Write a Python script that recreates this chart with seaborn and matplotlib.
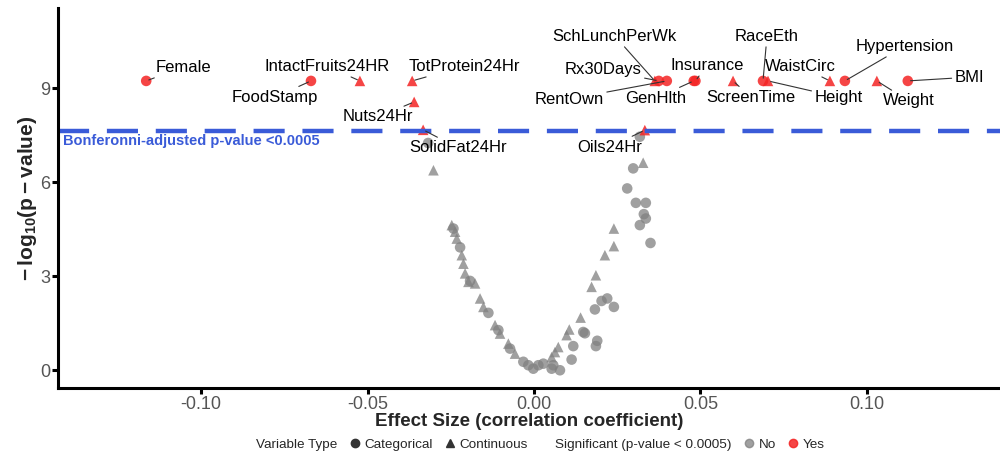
import numpy as np
import pandas as pd
import matplotlib
matplotlib.use("Agg")
import matplotlib.pyplot as plt
from matplotlib.lines import Line2D
import seaborn as sns

# ---------------- data ----------------
sig_names = ["Female", "FoodStamp", "IntactFruits24HR", "TotProtein24Hr", "Nuts24Hr",
             "SolidFat24Hr", "Oils24Hr", "SchLunchPerWk", "Rx30Days", "RentOwn",
             "Insurance", "GenHlth", "ScreenTime", "RaceEth", "Height", "WaistCirc",
             "Hypertension", "Weight", "BMI"]
sig_effect = [-0.1165, -0.067, -0.0523, -0.0366, -0.036, -0.0333, 0.0333, 0.0363, 0.0375,
              0.0399, 0.0485, 0.0480, 0.0598, 0.0688, 0.0703, 0.0889, 0.0934, 0.1030, 0.1123]
sig_logp = [9.23, 9.23, 9.23, 9.23, 8.56, 7.67, 7.66, 9.23, 9.23,
            9.23, 9.23, 9.23, 9.23, 9.23, 9.23, 9.23, 9.23, 9.23, 9.23]
sig_type = ["Categorical", "Categorical", "Continuous", "Continuous", "Continuous",
            "Continuous", "Continuous", "Continuous", "Categorical", "Categorical",
            "Categorical", "Categorical", "Continuous", "Categorical", "Continuous",
            "Continuous", "Categorical", "Continuous", "Categorical"]

ns_effect = [-0.0318, -0.0302, -0.0247, -0.0242, -0.0237, -0.0232, -0.0222, -0.0217, -0.0212,
             -0.0207, -0.0197, -0.0192, -0.0177, -0.0162, -0.0152, -0.0137, -0.0117, -0.0107,
             -0.0102, -0.0077, -0.0072, -0.0057, -0.0032, -0.0017, -0.0002, 0.0013, 0.0028,
             0.0053, 0.0058, 0.0078, 0.0053, 0.0063, 0.0073, 0.0098, 0.0106, 0.0113, 0.0118,
             0.0140, 0.0148, 0.0153, 0.0173, 0.0186, 0.0183, 0.0190, 0.0186, 0.0203, 0.0220,
             0.0240, 0.0213, 0.0240, 0.0240, 0.0280, 0.0298, 0.0328, 0.0306, 0.0336, 0.0330,
             0.0336, 0.0318, 0.0350, 0.0318]
ns_logp = [7.25, 6.38, 4.63, 4.52, 4.42, 4.20, 3.92, 3.67, 3.40,
           3.09, 2.82, 2.85, 2.77, 2.29, 2.02, 1.83, 1.44, 1.28,
           1.17, 0.85, 0.69, 0.53, 0.27, 0.16, 0.05, 0.16, 0.21,
           0.05, 0.16, 0.00, 0.42, 0.58, 0.74, 1.12, 1.30, 0.34, 0.77,
           1.68, 1.22, 1.18, 2.66, 3.03, 1.94, 0.94, 0.77, 2.21, 2.29,
           2.02, 3.67, 3.96, 4.52, 5.80, 6.44, 6.62, 5.34, 5.34, 4.98,
           4.84, 4.63, 4.06, 7.45]
ns_type = ["Categorical", "Continuous", "Continuous", "Categorical", "Continuous", "Continuous",
           "Categorical", "Continuous", "Continuous", "Continuous", "Continuous", "Categorical",
           "Continuous", "Continuous", "Continuous", "Categorical", "Continuous", "Categorical",
           "Continuous", "Continuous", "Categorical", "Continuous", "Categorical", "Categorical",
           "Categorical", "Categorical", "Categorical",
           "Categorical", "Categorical", "Categorical", "Continuous", "Continuous", "Continuous",
           "Continuous", "Continuous", "Categorical", "Categorical", "Continuous", "Categorical",
           "Categorical", "Continuous", "Continuous", "Categorical", "Categorical", "Categorical",
           "Categorical", "Categorical", "Categorical", "Continuous", "Continuous", "Continuous",
           "Categorical", "Categorical", "Continuous", "Categorical", "Categorical", "Categorical",
           "Categorical", "Categorical", "Categorical", "Categorical"]

threshold = 7.63
x_ticks = [-0.10, -0.05, 0.00, 0.05, 0.10]
x_tick_labels = ["-0.10", "-0.05", "0.00", "0.05", "0.10"]
y_ticks = [0, 3, 6, 9]

# label placement (layout, data coords)
label_pos = {
    "Female": (-0.1054, 9.67), "FoodStamp": (-0.0778, 8.71),
    "IntactFruits24HR": (-0.0622, 9.70), "TotProtein24Hr": (-0.0210, 9.70),
    "Nuts24Hr": (-0.0468, 8.08), "SolidFat24Hr": (-0.0228, 7.09),
    "Oils24Hr": (0.0228, 7.12), "SchLunchPerWk": (0.0243, 10.66),
    "Rx30Days": (0.0207, 9.58), "RentOwn": (0.0105, 8.65),
    "Insurance": (0.0520, 9.73), "GenHlth": (0.0366, 8.68),
    "ScreenTime": (0.0652, 8.71), "RaceEth": (0.0700, 10.66),
    "WaistCirc": (0.0799, 9.70), "Height": (0.0916, 8.71),
    "Hypertension": (0.1114, 10.34), "Weight": (0.1126, 8.59),
    "BMI": (0.1309, 9.35),
}

df = pd.concat([
    pd.DataFrame({"effect": ns_effect, "logp": ns_logp, "type": ns_type, "sig": "No"}),
    pd.DataFrame({"effect": sig_effect, "logp": sig_logp, "type": sig_type, "sig": "Yes"}),
], ignore_index=True)

# ---------------- style ----------------
sns.set_style("white")
plt.rcParams["font.family"] = ["Liberation Sans", "DejaVu Sans"]
plt.rcParams["mathtext.fontset"] = "custom"
plt.rcParams["mathtext.rm"] = "Liberation Sans"
plt.rcParams["mathtext.bf"] = "Liberation Sans:bold"

RED = "#F42424"
GREY = "#808080"
BLUE = "#3A5BD8"

fig = plt.figure(figsize=(10, 4.55), dpi=100)
ax = fig.add_axes([0.058, 0.147, 0.942, 0.835])

markers = {"Categorical": "o", "Continuous": "^"}
for sig, col, alpha in [("No", GREY, 0.75), ("Yes", RED, 0.85)]:
    sub = df[df["sig"] == sig]
    sns.scatterplot(data=sub, x="effect", y="logp", style="type", markers=markers,
                    style_order=["Categorical", "Continuous"], color=col, alpha=alpha,
                    s=58, linewidth=0, legend=False, ax=ax)

ax.axhline(threshold, color=BLUE, lw=3.2, dashes=(7, 4))
ax.text(-0.1415, threshold - 0.32, "Bonferonni-adjusted p-value <0.0005", color=BLUE,
        fontsize=10.5, fontweight="bold", ha="left", va="center")

for name, xv, yv in zip(sig_names, sig_effect, sig_logp):
    tx, ty = label_pos[name]
    ax.annotate(name, xy=(xv, yv), xytext=(tx, ty), fontsize=12, color="black",
                ha="center", va="center",
                arrowprops=dict(arrowstyle="-", color="#333333", lw=0.8,
                                shrinkA=0, shrinkB=2))

ax.set_xlim(-0.143, 0.140)
ax.set_ylim(-0.57, 11.55)
ax.set_xticks(x_ticks)
ax.set_xticklabels(x_tick_labels)
ax.set_yticks(y_ticks)
ax.tick_params(axis="both", which="major", length=4, width=2.2, color="black",
               labelsize=13, labelcolor="#555555", direction="out", pad=1.5,
               bottom=True, left=True)
for side in ["top", "right"]:
    ax.spines[side].set_visible(False)
for side in ["left", "bottom"]:
    ax.spines[side].set_color("black")
    ax.spines[side].set_linewidth(2.2)

ax.set_xlabel("Effect Size (correlation coefficient)", fontsize=13.5, fontweight="bold",
              labelpad=0)
ax.set_ylabel(r"$\mathbf{-\,log_{10}(p-value)}$", fontsize=15, labelpad=1)

# legend
blank = Line2D([], [], linestyle="none", marker=None)
handles = [
    blank,
    Line2D([], [], linestyle="none", marker="o", color="#333333", markersize=6),
    Line2D([], [], linestyle="none", marker="^", color="#333333", markersize=6),
    blank,
    Line2D([], [], linestyle="none", marker="o", color=GREY, alpha=0.75, markersize=6),
    Line2D([], [], linestyle="none", marker="o", color=RED, alpha=0.85, markersize=6),
]
labels = ["Variable Type", "Categorical", "Continuous",
          "Significant (p-value < 0.0005)", "No", "Yes"]
leg = fig.legend(handles, labels, loc="center", bbox_to_anchor=(0.533, 0.022), ncol=6,
                 frameon=False, fontsize=9.7, handlelength=0.8, handletextpad=0.3,
                 columnspacing=0.9, borderpad=0)
for h in leg.legend_handles[:1] + leg.legend_handles[3:4]:
    h.set_visible(False)

fig.savefig("out.png", dpi=100)
